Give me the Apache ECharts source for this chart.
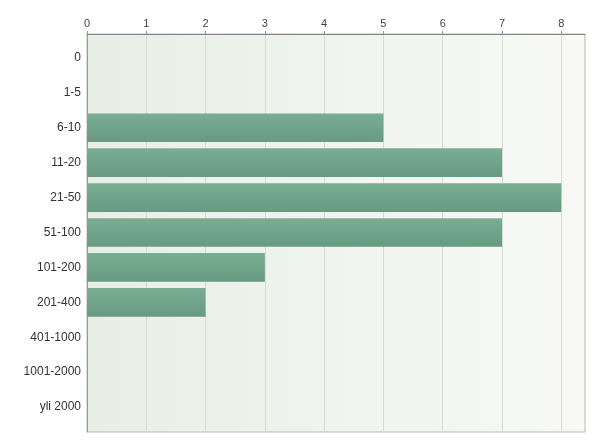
<!DOCTYPE html>
<html><head><meta charset="utf-8">
<script src="https://cdn.jsdelivr.net/npm/echarts@6/dist/echarts.min.js"></script>
<style>html,body{margin:0;padding:0;background:#fff}#c{width:600px;height:447px}</style>
</head><body><div id="c"></div>
<script>
var categories = ['0','1-5','6-10','11-20','21-50','51-100','101-200','201-400','401-1000','1001-2000','yli 2000'];
var values = [0,0,5,7,8,7,3,2,0,0,0];
var xTicks = [0,1,2,3,4,5,6,7,8];

var chart = echarts.init(document.getElementById('c'));
chart.setOption({
  animation:false,
  grid:[
    {left:87,right:15,top:34,bottom:15,show:true,borderColor:'#b8bbb6',borderWidth:1,
     backgroundColor:new echarts.graphic.LinearGradient(0,0,1,0,[{offset:0,color:'#e8eee6'},{offset:1,color:'#f8f9f6'}])},
    {left:87,right:15,top:40.5,bottom:22.5}
  ],
  xAxis:[
    {gridIndex:0,type:'value',position:'top',min:0,max:8.4,interval:1,
     axisLine:{show:true,onZero:false,lineStyle:{color:'#858585'}},
     axisTick:{show:true,length:3,lineStyle:{color:'#999'}},
     axisLabel:{color:'#444',fontSize:11,fontFamily:'Liberation Sans, Arial',margin:5,showMaxLabel:false,
       formatter:function(v){return xTicks.indexOf(v)>=0?String(v):'';}},
     splitLine:{show:true,lineStyle:{color:'#d6dcd4'}}},
    {gridIndex:1,type:'value',min:0,max:8.4,show:false}
  ],
  yAxis:[
    {gridIndex:0,type:'value',min:0,max:1,show:true,
     axisLine:{show:true,onZero:false,lineStyle:{color:'#999'}},
     axisTick:{show:false},axisLabel:{show:false},splitLine:{show:false}},
    {gridIndex:1,type:'category',inverse:true,data:categories,
     axisLine:{show:false},
     axisTick:{show:false},
     axisLabel:{color:'#333',fontSize:12,fontFamily:'Liberation Sans, Arial',margin:6}}
  ],
  series:[{type:'bar',xAxisIndex:1,yAxisIndex:1,data:values,barCategoryGap:'18%',
    itemStyle:{borderWidth:0,
      color:new echarts.graphic.LinearGradient(0,0,0,1,[{offset:0,color:'#7aae93'},{offset:1,color:'#679a80'}])}}]
});
</script></body></html>
